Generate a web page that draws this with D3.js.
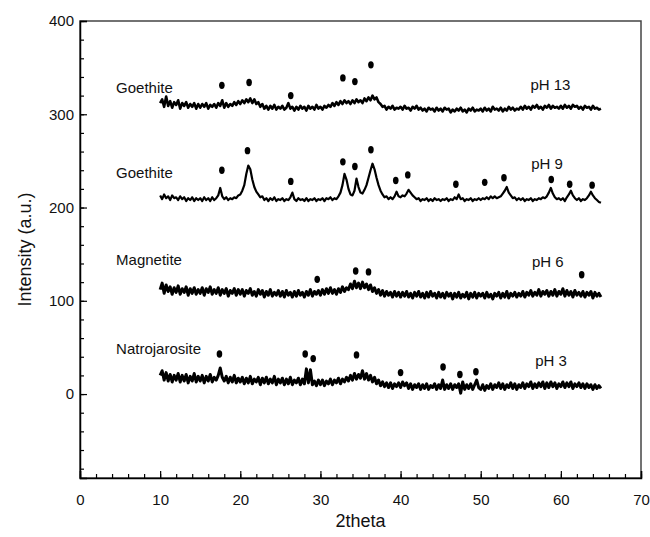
<!DOCTYPE html>
<html>
<head>
<meta charset="utf-8">
<title>XRD patterns</title>
<script src="https://d3js.org/d3.v7.min.js"></script>
<style>
  body { margin: 0; background: #fff; }
  text { font-family: "Liberation Sans", Arial, sans-serif; fill: #111; }
</style>
</head>
<body>
<script>
// 2theta sampling grid of the scans (10 to 65 deg, 0.25 deg steps)
const twoTheta = d3.range(10, 65.125, 0.25);

// intensities, one row = 5 degrees
const pH13 = [
  312,316,308,319,309,314,307,313,310,315,306,312,309,313,307,311,308,312,306,311,
  307,311,308,312,306,310,308,311,307,312,309,315,307,312,308,311,309,313,310,314,
  311,315,312,316,313,317,312,316,311,313,308,311,306,309,305,309,306,310,305,308,
  306,309,305,307,312,306,308,304,308,305,309,306,308,304,309,306,308,305,310,306,
  308,305,309,307,310,308,312,309,313,310,314,311,315,312,314,311,315,312,316,313,
  315,312,317,314,318,315,320,316,318,313,311,308,309,305,308,306,309,305,307,306,
  308,305,309,306,307,304,308,306,309,305,307,304,306,303,307,305,306,303,307,304,
  306,303,307,305,306,302,305,303,306,304,307,303,305,302,306,304,307,303,305,304,
  306,303,307,304,306,303,308,305,306,304,307,303,306,304,308,305,307,304,306,305,
  308,305,309,306,308,305,309,307,310,306,308,305,309,307,310,306,309,307,308,306,
  309,306,310,307,309,306,310,308,309,306,308,305,309,307,308,305,309,306,307,305,
  306
];
const pH9 = [
  213,209,214,210,212,208,213,210,211,208,212,209,211,207,210,208,211,207,210,208,
  210,207,211,208,210,207,211,208,210,213,221,212,209,211,208,210,209,211,210,213,
  214,218,224,236,245,241,230,222,217,214,211,212,208,210,207,210,208,211,207,209,
  208,210,207,209,208,211,216,209,207,210,208,209,207,210,207,209,208,210,207,209,
  208,210,207,210,209,211,208,210,209,212,216,224,236,230,220,214,213,218,231,222,
  216,215,219,224,232,240,247,241,232,224,218,214,211,212,209,211,209,212,217,212,
  211,213,212,215,219,216,213,211,209,210,207,209,208,210,207,209,207,210,208,209,
  207,209,208,210,207,209,208,211,209,214,209,210,207,209,208,210,207,209,208,210,
  208,210,209,211,209,212,210,212,210,211,212,215,218,222,216,213,210,211,208,210,
  208,210,207,209,208,210,207,209,208,210,209,211,210,212,216,221,215,211,209,210,
  208,210,207,211,214,218,213,210,208,210,207,209,208,210,213,217,213,210,208,206,
  205
];
const pH6 = [
  112,119,108,117,110,115,107,114,109,116,107,113,109,115,106,113,108,114,107,112,
  108,114,106,113,109,115,107,112,108,114,106,112,108,113,105,111,108,113,106,112,
  107,112,105,111,108,113,106,110,105,112,107,111,104,110,106,112,105,109,106,111,
  105,110,104,111,106,109,104,110,105,111,106,109,104,110,106,112,105,110,107,111,
  106,112,107,113,108,114,108,112,107,113,109,115,110,114,112,118,113,121,114,119,
  113,120,114,118,112,117,110,114,108,112,106,111,105,110,106,109,104,110,105,109,
  104,109,105,110,104,108,103,109,105,110,104,108,103,109,104,110,105,108,103,109,
  104,108,103,109,105,108,102,108,104,109,103,107,104,109,102,108,104,109,103,108,
  105,108,103,109,104,107,102,108,105,109,103,108,104,110,103,108,105,109,104,108,
  105,110,104,109,106,111,105,109,106,112,105,110,107,111,105,110,106,112,105,110,
  107,113,105,111,106,110,104,111,106,109,105,110,104,109,106,110,103,109,105,108,
  104
];
const pH3 = [
  20,25,15,23,14,21,13,20,15,22,13,20,14,21,12,19,14,22,13,19,
  14,20,12,19,14,21,13,18,15,20,28,18,14,19,12,18,13,20,12,17,
  13,18,11,17,12,19,11,16,13,18,10,17,12,18,11,16,12,19,10,16,
  12,17,10,16,11,18,10,15,12,17,10,16,11,27,12,26,10,14,9,15,
  10,15,9,14,11,16,10,15,12,17,11,16,13,18,14,20,15,22,16,21,
  17,25,16,22,15,20,13,18,11,15,9,13,8,12,7,12,6,11,8,12,
  7,13,9,12,6,11,5,10,7,11,5,10,6,11,5,9,7,11,5,10,
  6,15,5,10,6,11,5,10,7,11,1,13,5,10,6,11,5,10,15,7,
  5,10,4,9,6,11,5,10,7,12,6,11,5,10,7,12,6,11,5,10,
  7,12,6,11,8,13,6,11,7,12,8,13,6,12,7,13,8,12,6,11,
  8,13,7,12,8,13,6,11,8,12,7,11,6,11,7,10,5,10,6,9,
  6
];

// peak markers [2theta, intensity]
const dots13 = [[17.7,331],[21.1,334],[26.3,320],[32.8,339],[34.3,335],[36.3,353]];
const dots9 = [[17.7,240],[20.9,261],[26.3,228],[32.8,249],[34.3,244],[36.3,262],
  [39.4,229],[40.9,235],[46.9,225],[50.5,227],[52.9,232],[58.8,230],[61.1,225],[63.9,224]];
const dots6 = [[29.6,123],[34.4,132],[36.0,131],[62.6,128]];
const dots3 = [[17.4,43],[28.1,43],[29.1,38],[34.5,42],[40.0,23],[45.3,29],[47.4,21],[49.4,24]];

const phases = ["Goethite", "Goethite", "Magnetite", "Natrojarosite"];
const phLabels = ["pH 13", "pH 9", "pH 6", "pH 3"];
// text anchors in data units [2theta, intensity]
const phaseAt = [[4.5,323],[4.5,232],[4.5,138],[4.5,43]];
const phAt = [[56.2,326],[56.3,241],[56.4,136],[56.8,30]];

const xTicks = [0, 10, 20, 30, 40, 50, 60, 70];
const yTicks = [0, 100, 200, 300, 400];

const W = 650, H = 537;
const margin = { top: 21, right: 9, bottom: 59, left: 80 };

const svg = d3.select("body").append("svg")
  .attr("width", W)
  .attr("height", H);

const x = d3.scaleLinear().domain([0, 70]).range([margin.left, W - margin.right]);
const y = d3.scaleLinear().domain([-90, 400]).range([H - margin.bottom, margin.top]);

// frame
svg.append("rect")
  .attr("x", x(0)).attr("y", y(400))
  .attr("width", x(70) - x(0)).attr("height", y(-90) - y(400))
  .attr("fill", "none").attr("stroke", "#444").attr("stroke-width", 1.5);

// minor ticks
svg.append("g")
  .attr("transform", `translate(0,${y(-90)})`)
  .call(d3.axisBottom(x).tickValues(d3.range(0, 71, 2)).tickSize(-4).tickFormat(""))
  .call(g => g.select(".domain").remove());
svg.append("g")
  .attr("transform", `translate(${x(0)},0)`)
  .call(d3.axisLeft(y).tickValues(d3.range(-80, 401, 20)).tickSize(-4).tickFormat(""))
  .call(g => g.select(".domain").remove());

// major ticks and labels
const xAxis = svg.append("g")
  .attr("transform", `translate(0,${y(-90)})`)
  .call(d3.axisBottom(x).tickValues(xTicks).tickSize(-7).tickPadding(16));
const yAxis = svg.append("g")
  .attr("transform", `translate(${x(0)},0)`)
  .call(d3.axisLeft(y).tickValues(yTicks).tickSize(-7).tickPadding(6));

[xAxis, yAxis].forEach(g => {
  g.select(".domain").attr("stroke", "#000").attr("stroke-width", 1.5);
  g.selectAll("text").attr("font-size", 15).attr("font-family", "Liberation Sans, Arial, sans-serif");
});
svg.selectAll(".tick line").attr("stroke", "#000").attr("stroke-width", 1.2);

// traces (the scans print as a thick noisy band)
const line = d3.line()
  .x((d, i) => x(twoTheta[i]))
  .y(d => y(d));

const widths = [2.6, 2.2, 3, 3];
[pH13, pH9, pH6, pH3].forEach((s, i) => {
  svg.append("path")
    .datum(s)
    .attr("d", line)
    .attr("fill", "none")
    .attr("stroke", "#000")
    .attr("stroke-width", widths[i])
    .attr("stroke-linejoin", "round");
});

// peak markers
[dots13, dots9, dots6, dots3].forEach(ds => {
  svg.append("g").selectAll("ellipse")
    .data(ds)
    .join("ellipse")
    .attr("cx", d => x(d[0]))
    .attr("cy", d => y(d[1]))
    .attr("rx", 2.8)
    .attr("ry", 3.7)
    .attr("fill", "#000");
});

// labels
phases.forEach((t, i) => {
  svg.append("text")
    .attr("x", x(phaseAt[i][0])).attr("y", y(phaseAt[i][1]))
    .attr("font-size", 15)
    .text(t);
});
phLabels.forEach((t, i) => {
  svg.append("text")
    .attr("x", x(phAt[i][0])).attr("y", y(phAt[i][1]))
    .attr("font-size", 15)
    .text(t);
});

// axis titles
svg.append("text")
  .attr("x", (x(0) + x(70)) / 2)
  .attr("y", 527)
  .attr("text-anchor", "middle")
  .attr("font-size", 18)
  .text("2theta");

svg.append("text")
  .attr("transform", `translate(31,${(y(-90) + y(400)) / 2}) rotate(-90)`)
  .attr("text-anchor", "middle")
  .attr("font-size", 18)
  .text("Intensity (a.u.)");
</script>
</body>
</html>
